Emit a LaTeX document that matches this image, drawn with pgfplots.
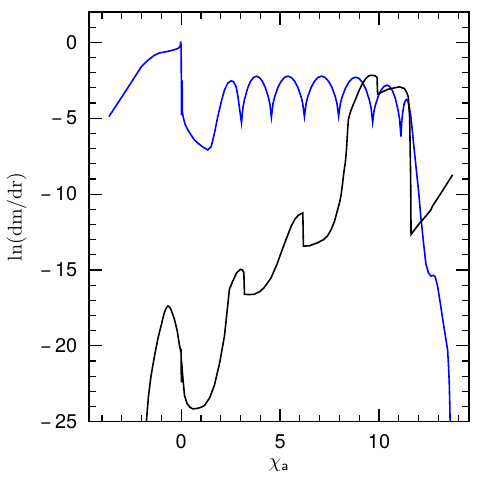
\documentclass[border=0pt]{standalone}
\usepackage{fontspec}
\usepackage{pgfplots}
\pgfplotsset{compat=1.18}
\newfontfamily\heros{TeX Gyre Heros}

\begin{document}
\begin{tikzpicture}
\begin{axis}[
    scale only axis,
    width=190.5bp, height=205.5bp,
    xmin=-4.65, xmax=14.55,
    ymin=-25, ymax=2,
    xtick={0,5,10},
    xticklabels={0,5,10},
    ytick={-25,-20,-15,-10,-5,0},
    yticklabels={−\,25,−\,20,−\,15,−\,10,−\,5,0},
    minor xtick={-4,-3,-2,-1,1,2,3,4,6,7,8,9,11,12,13,14},
    minor ytick={-24,-23,-22,-21,-19,-18,-17,-16,-14,-13,-12,-11,-9,-8,-7,-6,-4,-3,-2,-1,1},
    tick align=inside,
    major tick length=6.5bp,
    minor tick length=3.5bp,
    every tick/.style={black, line width=0.6pt},
    axis line style={line width=0.7pt},
    ticklabel style={font=\heros},
    yticklabel style={xshift=-2.5bp},
    xticklabel style={yshift=-3bp},
    xlabel={$\chi_{\mathsf{a}}$},
    ylabel={ln(dm/dr)},
    xlabel style={yshift=2pt},
    ylabel style={yshift=0pt},
    clip=true,
]
% blue curve
\addplot[blue, line width=0.8pt] coordinates {
(-3.65,-4.9) (-3.0,-3.6) (-2.5,-2.6) (-2.02,-1.62) (-1.68,-1.18) (-1.35,-0.85)
(-1.09,-0.70) (-0.84,-0.64) (-0.42,-0.52) (-0.17,-0.41) (-0.05,-0.28)
(-0.02,0.05) (0.0,-0.3) (0.02,-4.8) (0.035,-4.6) (0.05,-2.5) (0.065,-4.6)
(0.1,-4.9) (0.2,-5.4) (0.34,-5.77) (0.5,-6.1) (0.67,-6.43) (0.9,-6.7)
(1.1,-6.9) (1.35,-7.09)
(1.52,-6.87) (1.68,-6.0) (1.85,-4.9) (2.05,-3.8) (2.19,-3.15) (2.35,-2.7)
(2.53,-2.53) (2.65,-2.6) (2.78,-2.93) (2.87,-3.55) (2.94,-4.25) (3.05,-5.3)
(3.126,-4.28) (3.201,-3.77) (3.352,-3.05) (3.503,-2.58) (3.654,-2.32) (3.805,-2.23)
(3.956,-2.32) (4.107,-2.57) (4.258,-2.99) (4.409,-3.62) (4.485,-4.06) (4.56,-4.94)
(4.644,-4.04) (4.727,-3.59) (4.894,-2.96) (5.061,-2.55) (5.228,-2.31) (5.395,-2.23)
(5.562,-2.31) (5.729,-2.55) (5.896,-2.96) (6.063,-3.59) (6.147,-4.04) (6.23,-4.9)
(6.317,-4.01) (6.403,-3.57) (6.576,-2.95) (6.749,-2.55) (6.922,-2.31) (7.095,-2.23)
(7.268,-2.31) (7.441,-2.55) (7.614,-2.95) (7.787,-3.57) (7.874,-4.01) (7.96,-4.86)
(8.046,-4.04) (8.132,-3.62) (8.304,-3.02) (8.476,-2.62) (8.648,-2.38) (8.82,-2.30)
(8.992,-2.38) (9.164,-2.64) (9.336,-3.09) (9.508,-3.78) (9.594,-4.28) (9.68,-5.27)
(9.752,-4.50) (9.823,-4.11) (9.966,-3.54) (10.109,-3.15) (10.252,-2.91) (10.395,-2.82)
(10.538,-2.91) (10.681,-3.19) (10.824,-3.69) (10.967,-4.49) (11.039,-5.07) (11.11,-6.21)
(11.15,-5.2) (11.2,-4.6) (11.27,-4.05) (11.35,-3.8) (11.41,-3.76) (11.47,-3.9)
(11.55,-4.4) (11.62,-5.0) (11.75,-6.7) (11.87,-8.2) (12.0,-9.8) (12.12,-11.6)
(12.25,-13.2) (12.37,-14.6) (12.5,-15.2) (12.63,-15.4) (12.75,-15.35) (12.84,-15.45)
(12.96,-16.06) (13.1,-17.2) (13.25,-18.5) (13.38,-19.55) (13.47,-20.3) (13.52,-21.5)
(13.55,-22.4) (13.58,-24.0) (13.6,-25.5)
};
% black curve
\addplot[black, line width=0.8pt] coordinates {
(-1.79,-25.5) (-1.65,-23.3) (-1.52,-21.96) (-1.35,-20.7) (-1.18,-19.55) (-1.0,-18.6)
(-0.85,-17.8) (-0.75,-17.5) (-0.67,-17.37) (-0.58,-17.45) (-0.5,-17.65) (-0.34,-18.24)
(-0.2,-19.0) (-0.08,-20.0)
(-0.01,-20.4) (0.0,-20.2) (0.01,-22.4) (0.02,-21.0) (0.08,-22.0) (0.17,-23.27)
(0.3,-23.8) (0.45,-24.05) (0.59,-24.15) (0.8,-24.12) (1.0,-24.05) (1.18,-23.93)
(1.45,-23.4) (1.68,-22.6)
(1.95,-21.1) (2.19,-19.34) (2.3,-18.0) (2.44,-16.27) (2.61,-15.73) (2.8,-15.2)
(2.99,-14.96) (3.1,-15.0) (3.17,-15.18) (3.2,-16.6) (3.45,-16.62) (3.7,-16.6)
(4.0,-16.4) (4.2,-16.15) (4.38,-15.83) (4.55,-15.5) (4.7,-15.05) (4.85,-14.6)
(5.05,-13.87) (5.3,-13.0) (5.56,-12.12) (5.75,-11.65) (5.9,-11.42) (6.05,-11.3)
(6.15,-11.24) (6.18,-13.43) (6.5,-13.4) (6.9,-13.2)
(7.2,-13.0) (7.4,-12.75) (7.58,-12.34) (7.75,-11.8) (7.91,-11.02) (8.0,-10.6)
(8.08,-10.1) (8.15,-9.4) (8.22,-8.6) (8.3,-7.9) (8.36,-7.0) (8.41,-5.9)
(8.45,-5.12) (8.52,-4.75) (8.59,-4.46) (8.7,-4.1) (8.8,-3.8) (9.0,-3.15)
(9.17,-2.7) (9.34,-2.38) (9.47,-2.22)
(9.6,-2.17) (9.8,-2.2) (9.9,-2.32) (9.93,-3.41) (10.44,-3.1) (11.03,-2.93)
(11.28,-3.04) (11.4,-3.3) (11.48,-3.59) (11.55,-5.0) (11.6,-9.0) (11.62,-12.66)
(12.0,-12.0) (12.4,-11.4) (12.63,-11.02) (12.7,-10.8) (13.2,-9.8) (13.72,-8.73)
};
\end{axis}
\path (current axis.south west) +(-44bp,-28bp);
\path (current axis.north east) +(5bp,6bp);
\end{tikzpicture}
\end{document}
